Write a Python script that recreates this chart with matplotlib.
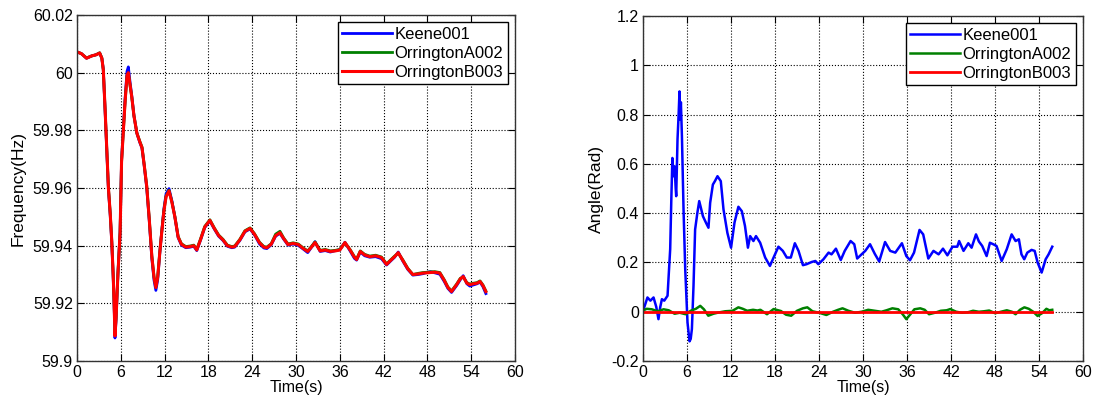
"""Bus frequency and angle traces - MATLAB style two panel plot"""

import matplotlib
matplotlib.use('Agg')
import matplotlib.pyplot as plt
from matplotlib.ticker import FuncFormatter

# ---- data ----
labels = ['Keene001', 'OrringtonA002', 'OrringtonB003']

t_freq = [0, 0.6, 1.3, 2.0, 2.6, 3.1, 3.4, 3.6, 3.85, 4.1, 4.3, 4.55, 4.75, 4.95,
          5.07, 5.2, 5.35, 5.6, 5.9, 6.1, 6.35, 6.6, 6.85, 7.03, 7.25, 7.5, 7.8,
          8.2, 8.6, 8.9, 9.2, 9.55, 9.9, 10.25, 10.55, 10.8, 11.05, 11.35, 11.6,
          11.9, 12.2, 12.6, 13.0, 13.4, 13.85, 14.3, 14.9, 15.5, 16.0, 16.4, 16.9,
          17.5, 18.2, 18.8, 19.4, 20.0, 20.6, 21.2, 21.6, 22.3, 23.0, 23.7, 24.3,
          25.0, 25.6, 26.0, 26.6, 27.2, 27.8, 28.3, 28.9, 29.6, 30.3, 31.0, 31.6,
          32.1, 32.6, 33.3, 34.0, 34.7, 35.4, 36.0, 36.7, 37.4, 38.0, 38.3, 38.8,
          39.4, 40.1, 40.9, 41.7, 42.4, 43.0, 43.5, 44.0, 44.6, 45.3, 46.0, 46.7,
          47.4, 48.0, 48.4, 49.0, 49.7, 50.3, 50.8, 51.3, 52.0, 52.5, 52.9, 53.4,
          53.8, 54.3, 54.8, 55.2, 55.6, 56.0]

freq_keene = [60.0072, 60.0066, 60.0050, 60.0058, 60.0062, 60.0068, 60.0050, 60.0012,
              59.9865, 59.9715, 59.9595, 59.9505, 59.9415, 59.9295, 59.9205, 59.9080,
              59.9145, 59.9300, 59.9445, 59.9695, 59.9810, 59.9915, 60.0005, 60.0020,
              59.9970, 59.9920, 59.9850, 59.9790, 59.9758, 59.9738, 59.9678, 59.9600,
              59.9485, 59.9355, 59.9280, 59.9245, 59.9282, 59.9378, 59.9448, 59.9528,
              59.9580, 59.9598, 59.9555, 59.9500, 59.9428, 59.9402, 59.9393, 59.9395,
              59.9398, 59.9383, 59.9418, 59.9463, 59.9486, 59.9458, 59.9433, 59.9418,
              59.9398, 59.9393, 59.9395, 59.9418, 59.9448, 59.9458, 59.9438, 59.9406,
              59.9392, 59.9390, 59.9403, 59.9433, 59.9443, 59.9423, 59.9402, 59.9406,
              59.9401, 59.9388, 59.9376, 59.9394, 59.9414, 59.9380, 59.9383, 59.9378,
              59.9383, 59.9386, 59.9412, 59.9382, 59.9356, 59.9350, 59.9378, 59.9365,
              59.9360, 59.9362, 59.9355, 59.9333, 59.9348, 59.9360, 59.9378, 59.9348,
              59.9318, 59.9298, 59.9300, 59.9303, 59.9308, 59.9310, 59.9306, 59.9301,
              59.9276, 59.9252, 59.9238, 59.9262, 59.9282, 59.9296, 59.9268, 59.9260,
              59.9264, 59.9268, 59.9274, 59.9258, 59.9234]

freq_orra = [60.0072, 60.0066, 60.0051, 60.0058, 60.0062, 60.0069, 60.0051, 60.0010,
             59.9872, 59.9722, 59.9602, 59.9512, 59.9422, 59.9302, 59.9212, 59.9090,
             59.9152, 59.9302, 59.9447, 59.9690, 59.9800, 59.9905, 59.9988, 59.9998,
             59.9958, 59.9915, 59.9851, 59.9791, 59.9762, 59.9742, 59.9682, 59.9607,
             59.9492, 59.9364, 59.9292, 59.9258, 59.9292, 59.9382, 59.9447, 59.9522,
             59.9572, 59.9592, 59.9552, 59.9502, 59.9432, 59.9407, 59.9397, 59.9399,
             59.9402, 59.9387, 59.9422, 59.9467, 59.9490, 59.9462, 59.9437, 59.9422,
             59.9402, 59.9397, 59.9399, 59.9422, 59.9452, 59.9462, 59.9442, 59.9412,
             59.9397, 59.9395, 59.9407, 59.9440, 59.9450, 59.9427, 59.9406, 59.9410,
             59.9406, 59.9392, 59.9382, 59.9397, 59.9413, 59.9384, 59.9387, 59.9382,
             59.9384, 59.9387, 59.9410, 59.9387, 59.9362, 59.9354, 59.9382, 59.9370,
             59.9364, 59.9367, 59.9361, 59.9337, 59.9352, 59.9364, 59.9374, 59.9352,
             59.9322, 59.9300, 59.9304, 59.9307, 59.9308, 59.9309, 59.9310, 59.9307,
             59.9282, 59.9257, 59.9243, 59.9267, 59.9287, 59.9291, 59.9272, 59.9267,
             59.9270, 59.9272, 59.9278, 59.9264, 59.9243]

freq_orrb = [60.0072, 60.0066, 60.0050, 60.0058, 60.0062, 60.0068, 60.0050, 60.0010,
             59.9870, 59.9720, 59.9600, 59.9510, 59.9420, 59.9300, 59.9210, 59.9087,
             59.9150, 59.9300, 59.9445, 59.9690, 59.9800, 59.9906, 59.9990, 60.0000,
             59.9960, 59.9916, 59.9850, 59.9790, 59.9760, 59.9740, 59.9680, 59.9605,
             59.9490, 59.9362, 59.9290, 59.9255, 59.9290, 59.9380, 59.9445, 59.9520,
             59.9570, 59.9590, 59.9550, 59.9500, 59.9430, 59.9405, 59.9395, 59.9397,
             59.9400, 59.9385, 59.9420, 59.9465, 59.9488, 59.9460, 59.9435, 59.9420,
             59.9400, 59.9395, 59.9397, 59.9420, 59.9450, 59.9460, 59.9440, 59.9410,
             59.9395, 59.9393, 59.9405, 59.9435, 59.9445, 59.9425, 59.9404, 59.9408,
             59.9404, 59.9390, 59.9380, 59.9395, 59.9411, 59.9382, 59.9385, 59.9380,
             59.9382, 59.9385, 59.9411, 59.9385, 59.9360, 59.9352, 59.9380, 59.9368,
             59.9362, 59.9365, 59.9359, 59.9335, 59.9350, 59.9362, 59.9376, 59.9350,
             59.9320, 59.9300, 59.9302, 59.9305, 59.9306, 59.9307, 59.9308, 59.9305,
             59.9280, 59.9255, 59.9241, 59.9265, 59.9285, 59.9293, 59.9270, 59.9265,
             59.9268, 59.9270, 59.9276, 59.9262, 59.9241]

t_ang_keene = [0.0, 0.16, 0.6, 1.0, 1.43, 1.8, 2.1, 2.35, 2.57, 2.89, 3.34, 3.5, 3.7,
               3.85, 4.0, 4.15, 4.3, 4.45, 4.52, 4.7, 4.85, 4.97, 5.06, 5.16, 5.3,
               5.52, 5.75, 6.06, 6.34, 6.5, 6.66, 6.88, 7.1, 7.4, 7.66, 7.9, 8.16,
               8.6, 8.92, 9.15, 9.52, 9.8, 10.15, 10.6, 10.97, 11.5, 12.0, 12.47,
               13.0, 13.47, 13.9, 14.3, 14.6, 15.05, 15.4, 15.97, 16.65, 17.3, 17.8,
               18.46, 19.06, 19.6, 20.15, 20.7, 21.2, 21.8, 22.3, 23.0, 23.5, 23.9,
               24.6, 25.3, 25.7, 26.3, 26.96, 27.5, 28.3, 28.8, 29.2, 29.8, 30.3,
               30.95, 31.6, 32.2, 33.0, 33.7, 34.4, 35.3, 35.9, 36.4, 36.95, 37.7,
               38.2, 38.9, 39.6, 40.3, 40.9, 41.5, 42.2, 42.85, 43.1, 43.7, 44.35,
               44.8, 45.4, 45.8, 46.25, 46.85, 47.3, 47.75, 48.2, 48.9, 49.6, 50.26,
               50.8, 51.25, 51.6, 51.98, 52.4, 52.98, 53.4, 53.8, 54.35, 54.9, 55.3,
               55.8]
ang_keene = [0.0, 0.018, 0.058, 0.045, 0.058, 0.02, -0.03, 0.02, 0.051, 0.045, 0.065,
             0.15, 0.254, 0.45, 0.624, 0.55, 0.59, 0.50, 0.469, 0.70, 0.80, 0.894,
             0.78, 0.85, 0.712, 0.415, 0.173, -0.043, -0.12, -0.11, -0.07, 0.105,
             0.334, 0.40, 0.449, 0.42, 0.388, 0.36, 0.341, 0.442, 0.516, 0.53, 0.55,
             0.53, 0.415, 0.32, 0.26, 0.362, 0.426, 0.408, 0.348, 0.26, 0.307, 0.287,
             0.307, 0.28, 0.22, 0.186, 0.22, 0.264, 0.247, 0.22, 0.22, 0.278, 0.247,
             0.189, 0.193, 0.202, 0.206, 0.193, 0.213, 0.24, 0.233, 0.256, 0.21,
             0.247, 0.287, 0.274, 0.216, 0.233, 0.247, 0.274, 0.235, 0.204, 0.283,
             0.247, 0.24, 0.278, 0.226, 0.209, 0.24, 0.332, 0.314, 0.216, 0.247,
             0.233, 0.256, 0.229, 0.264, 0.264, 0.287, 0.247, 0.278, 0.26, 0.314,
             0.285, 0.267, 0.226, 0.28, 0.274, 0.267, 0.206, 0.254, 0.314, 0.287,
             0.294, 0.233, 0.213, 0.24, 0.251, 0.247, 0.2, 0.159, 0.213, 0.233, 0.264]

t_ang_orra = [0, 0.5, 1.2, 2.0, 2.8, 3.5, 4.3, 5.0, 5.8, 6.5, 7.2, 7.8, 8.3, 8.9, 9.6,
              10.3, 11.2, 12.2, 13.0, 13.6, 14.2, 15.0, 15.6, 16.0, 16.9, 17.8, 18.8,
              19.5, 20.2, 21.0, 21.8, 22.4, 23.1, 24.0, 25.0, 25.9, 26.6, 27.2, 28.0,
              28.9, 29.8, 30.7, 31.6, 32.5, 33.2, 34.0, 34.8, 35.4, 35.9, 36.4, 37.0,
              37.8, 38.4, 39.0, 39.8, 40.6, 41.4, 41.9, 42.7, 43.5, 44.3, 45.0, 45.8,
              46.5, 47.2, 48.0, 48.8, 49.6, 50.3, 50.8, 51.4, 52.0, 52.6, 53.2, 53.8,
              54.4, 55.0, 55.4, 55.8]
ang_orra = [0.005, 0.012, 0.010, 0.002, 0.010, 0.006, -0.008, -0.004, -0.010, 0.004,
            0.012, 0.024, 0.010, -0.016, -0.008, -0.003, 0.002, 0.004, 0.018, 0.012,
            0.004, 0.008, 0.005, 0.008, -0.010, 0.011, 0.003, -0.012, -0.016, 0.004,
            0.014, 0.018, 0.002, -0.004, -0.013, 0.0, 0.008, 0.014, 0.004, -0.004,
            0.0, 0.008, 0.004, 0.0, 0.006, 0.014, 0.010, -0.010, -0.030, -0.012,
            0.010, 0.014, 0.008, -0.010, -0.004, 0.004, 0.006, 0.011, 0.0, -0.004,
            -0.002, 0.004, 0.0, 0.002, 0.005, -0.006, 0.0, 0.006, 0.0, -0.010, 0.008,
            0.018, 0.012, 0.0, -0.017, -0.006, 0.012, 0.006, 0.008]

t_ang_orrb = [0, 55.8]
ang_orrb = [0.0, 0.0]

colors = ['#0000ff', '#008000', '#ff0000']

plt.rcParams['font.family'] = ['Liberation Sans', 'DejaVu Sans']
plt.rcParams['font.size'] = 11


def style_axes(ax, ylabel):
    ax.set_xlim(0, 60)
    ax.set_xticks(range(0, 61, 6))
    ax.grid(True, color='black', linestyle=':', lw=0.8)
    ax.tick_params(direction='in', top=True, right=True, length=5, width=0.8,
                   labelsize=11.5, pad=3)
    for sp in ax.spines.values():
        sp.set_color('#333333')
        sp.set_linewidth(1.0)
    ax.yaxis.set_major_formatter(FuncFormatter(lambda v, p: f'{v:g}'))
    ax.set_xlabel('Time(s)', fontsize=11.5, labelpad=0)
    ax.set_ylabel(ylabel, fontsize=12.5, labelpad=5)
    ax.legend(loc='upper right', fancybox=False, edgecolor='black', framealpha=1,
              handlelength=3.0, handletextpad=0.15, borderpad=0.25,
              labelspacing=0.25, borderaxespad=0.45, fontsize=12)


fig = plt.figure(figsize=(10.94, 4.05), dpi=100)
ax1 = fig.add_axes([0.0704, 0.1085, 0.4004, 0.8545])
ax2 = fig.add_axes([0.5878, 0.1085, 0.4022, 0.852])

ax1.plot(t_freq, freq_keene, color=colors[0], lw=2, label=labels[0])
ax1.plot(t_freq, freq_orra, color=colors[1], lw=2, label=labels[1])
ax1.plot(t_freq, freq_orrb, color=colors[2], lw=2.2, label=labels[2])
ax1.set_ylim(59.9, 60.02)
ax1.set_yticks([59.9, 59.92, 59.94, 59.96, 59.98, 60.0, 60.02])
style_axes(ax1, 'Frequency(Hz)')

ax2.plot(t_ang_keene, ang_keene, color=colors[0], lw=1.8, label=labels[0])
ax2.plot(t_ang_orra, ang_orra, color=colors[1], lw=1.8, label=labels[1])
ax2.plot(t_ang_orrb, ang_orrb, color=colors[2], lw=2, label=labels[2])
ax2.set_ylim(-0.2, 1.2)
ax2.set_yticks([-0.2, 0, 0.2, 0.4, 0.6, 0.8, 1.0, 1.2])
style_axes(ax2, 'Angle(Rad)')

fig.savefig('out.png', dpi=100)
